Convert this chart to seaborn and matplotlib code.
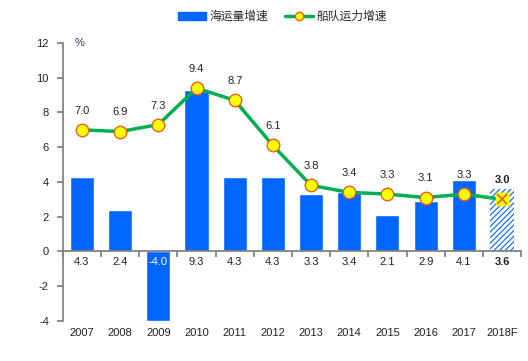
import matplotlib
matplotlib.use("Agg")
import matplotlib.pyplot as plt
import matplotlib.transforms as mtransforms
from matplotlib.lines import Line2D
from matplotlib.patches import Patch
import pandas as pd
import seaborn as sns

# ---------------------------------------------------------------------------
# DATA
# ---------------------------------------------------------------------------
years = ["2007", "2008", "2009", "2010", "2011", "2012", "2013",
         "2014", "2015", "2016", "2017", "2018F"]
seaborne_growth = [4.3, 2.4, -4.0, 9.3, 4.3, 4.3, 3.3, 3.4, 2.1, 2.9, 4.1, 3.6]
fleet_growth = [7.0, 6.9, 7.3, 9.4, 8.7, 6.1, 3.8, 3.4, 3.3, 3.1, 3.3, 3.0]
bar_label = "海运量增速"
line_label = "船队运力增速"

BLUE = "#0066FF"
GREEN = "#00B050"
YELLOW = "#FFFF00"
ORANGE = "#E8601C"
GREY = "#808080"
TEXT = "#222222"

sns.set_theme(style="white")
plt.rcParams["font.family"] = ["Liberation Sans", "Noto Sans CJK SC", "DejaVu Sans"]
plt.rcParams["axes.unicode_minus"] = False
plt.rcParams["hatch.linewidth"] = 0.8

df = pd.DataFrame({"year": years, "sea": seaborne_growth, "fleet": fleet_growth})

fig = plt.figure(figsize=(5.28, 3.61), dpi=100)
ax = fig.add_axes([0.119, 0.111, 0.868, 0.770])

sns.barplot(data=df, x="year", y="sea", color=BLUE, width=0.63,
            saturation=1, ax=ax, zorder=2)

# forecast bar: hatched
last = ax.patches[-1]
last.set_facecolor("white")
last.set_edgecolor(BLUE)
last.set_hatch("//////")
last.set_linewidth(0)

xs = list(range(len(years)))
ax.plot(xs, fleet_growth, color=GREEN, lw=2.5, zorder=3)
ax.plot(xs[:-1], fleet_growth[:-1], ls="none", marker="o", ms=9,
        mfc=YELLOW, mec=ORANGE, mew=1.0, zorder=4)
ax.plot(xs[-1], fleet_growth[-1], ls="none", marker="s", ms=8,
        mfc=YELLOW, mec=YELLOW, zorder=4)
ax.plot(xs[-1], fleet_growth[-1], ls="none", marker="x", ms=7,
        mec=ORANGE, mew=1.2, zorder=5)

# labels
for i, (s, f) in enumerate(zip(seaborne_growth, fleet_growth)):
    bold = "bold" if years[i].endswith("F") else "normal"
    ax.text(i, -0.62, f"{s:.1f}", ha="center", va="center", fontsize=8,
            color="white" if s < 0 else TEXT, fontweight=bold, zorder=6)
    ax.text(i, f + 1.1, f"{f:.1f}", ha="center", va="center", fontsize=8,
            color=TEXT, fontweight=bold, zorder=6)

ax.set_xlim(-0.5, len(years) - 0.5)
ax.set_ylim(-4, 12)
ax.set_yticks(range(-4, 13, 2))
ax.tick_params(axis="y", labelsize=8, colors=TEXT, length=4, direction="out",
               left=True, color=GREY, pad=6)
ax.set_xlabel("")
ax.set_ylabel("")

# x axis at zero, ticks between categories
ax.spines["bottom"].set_position(("data", 0))
ax.spines["bottom"].set_color(GREY)
ax.spines["left"].set_color(GREY)
for s in ("top", "right"):
    ax.spines[s].set_visible(False)
ax.set_xticks([i - 0.5 for i in range(len(years) + 1)])
ax.set_xticklabels([])
ax.tick_params(axis="x", bottom=True, length=4, direction="out", color=GREY)

trans = mtransforms.blended_transform_factory(ax.transData, ax.transAxes)
for i, y in enumerate(years):
    ax.text(i, -0.045, y, transform=trans, ha="center", va="center",
            fontsize=8, color=TEXT)

ax.text(-0.05, 12, "%", ha="center", va="center", fontsize=8, color="#1F3864")

handles = [Patch(facecolor=BLUE, edgecolor=BLUE),
           Line2D([0], [0], color=GREEN, lw=2.5, marker="o", ms=6,
                  mfc=YELLOW, mec=ORANGE)]
fig.legend(handles, [bar_label, line_label], loc="center", ncol=2,
           bbox_to_anchor=(0.535, 0.953), frameon=False, fontsize=8.5,
           handlelength=2.4, columnspacing=1.4, handletextpad=0.3)

fig.savefig("out.png", dpi=100)
